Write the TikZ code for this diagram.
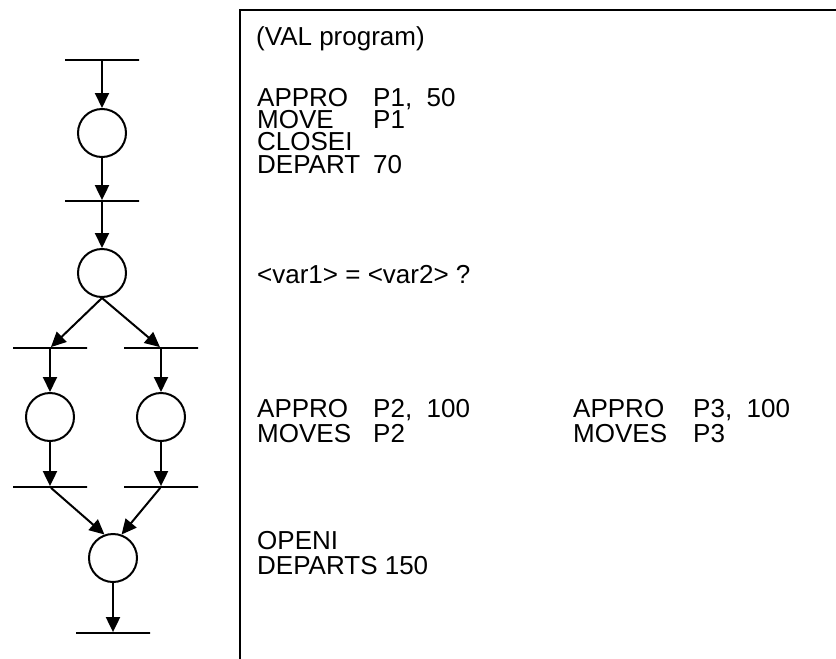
\documentclass[tikz,border=0pt]{standalone}
\usepackage{fontspec}
\setmainfont{Liberation Sans}
\usetikzlibrary{arrows.meta}

\begin{document}
\begin{tikzpicture}[x=1pt,y=-1pt,
  place/.style={draw,circle,line width=2pt,minimum size=48pt,inner sep=0pt},
  bar/.style={draw,rectangle,line width=1.8pt,minimum width=74pt,minimum height=0pt,inner sep=0pt},
  flow/.style={line width=2pt,-{Triangle[length=15pt,width=14pt]}},
  code/.style={anchor=base west,inner sep=0pt,font=\fontsize{26}{26}\selectfont}]
\useasboundingbox (0,0) rectangle (836,659);
% Frame of the program listing
\draw[line width=2pt] (836,10) -- (239.5,10) -- (239.5,659);
% Transitions
\node[bar] (t0) at (102,60) {};
\node[bar] (t1) at (102,201) {};
\node[bar] (t2) at (50,348) {};
\node[bar] (t3) at (161,348) {};
\node[bar] (t4) at (50,487) {};
\node[bar] (t5) at (161,487) {};
\node[bar] (t6) at (113,633) {};
% Places
\node[place] (p1) at (102,133) {};
\node[place] (p2) at (102,273) {};
\node[place] (p3) at (50,417) {};
\node[place] (p4) at (161,417) {};
\node[place] (p5) at (113,558) {};
% Arcs of the net
\draw[flow] (t0) -- (p1);
\draw[flow] (p1) -- (t1);
\draw[flow] (t1) -- (p2);
\draw[flow] (p2.south) -- (t2);
\draw[flow] (p2.south) -- (t3);
\draw[flow] (t2) -- (p3);
\draw[flow] (t3) -- (p4);
\draw[flow] (p3) -- (t4);
\draw[flow] (p4) -- (t5);
\draw[flow] (t4) -- (p5.110);
\draw[flow] (t5) -- (p5.70);
\draw[flow] (p5) -- (t6);
% VAL program
\node[code] (title) at (256,45) {(VAL program)};
\node[code] (op1) at (257,106) {APPRO};
\node[code] (arg1) at (373,106) {P1,\ \ 50};
\node[code] (op2) at (257,128) {MOVE};
\node[code] (arg2) at (373,128) {P1};
\node[code] (op3) at (257,150) {CLOSEI};
\node[code] (op4) at (257,173) {DEPART};
\node[code] (arg4) at (373,173) {70};
% Test
\node[code] (test) at (257,283) {<var1> = <var2> ?};
% Two branches
\node[code] (op5) at (257,417) {APPRO};
\node[code] (arg5) at (373,417) {P2,\ \ 100};
\node[code] (op6) at (257,442) {MOVES};
\node[code] (arg6) at (373,442) {P2};
\node[code] (op7) at (573,417) {APPRO};
\node[code] (arg7) at (693,417) {P3,\ \ 100};
\node[code] (op8) at (573,442) {MOVES};
\node[code] (arg8) at (693,442) {P3};
% End
\node[code] (op9) at (257,549) {OPENI};
\node[code] (op10) at (257,574) {DEPARTS 150};
\end{tikzpicture}
\end{document}
